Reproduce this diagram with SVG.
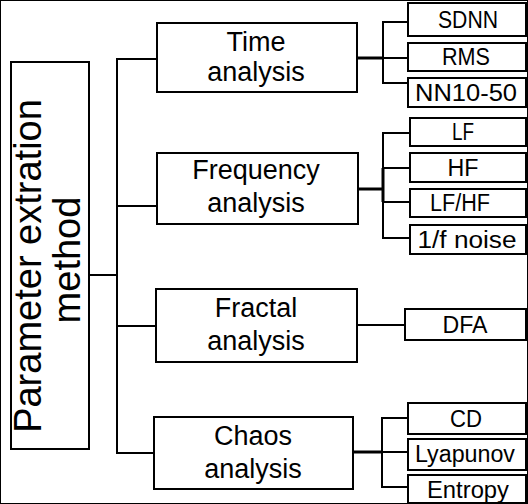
<svg xmlns="http://www.w3.org/2000/svg" width="528" height="504" viewBox="0 0 528 504">
<style>
rect{fill:#fff;stroke:#000;stroke-width:2}
line{stroke:#000;stroke-width:2}
.thick{stroke-width:3}
text{font-family:"Liberation Sans",Arial,sans-serif;fill:#000;text-anchor:middle}
.big{font-size:38px}
.mid{font-size:27px}
.small{font-size:23px}
</style>
<rect width="528" height="504" fill="#fff" stroke="none"/>
<g id="connectors">
<line x1="89" y1="275" x2="117" y2="275"/>
<line x1="117" y1="59" x2="117" y2="453"/>
<line x1="116" y1="59" x2="157" y2="59"/>
<line x1="116" y1="206" x2="157" y2="206"/>
<line x1="116" y1="326" x2="156" y2="326"/>
<line x1="116" y1="453" x2="154" y2="453"/>
<line class="thick" x1="357" y1="58" x2="383" y2="58"/>
<line x1="383" y1="22" x2="383" y2="83"/>
<line x1="382" y1="22" x2="408" y2="22"/>
<line x1="383" y1="58" x2="408" y2="58"/>
<line x1="382" y1="83" x2="408" y2="83"/>
<line class="thick" x1="358" y1="189" x2="383" y2="189"/>
<line x1="383" y1="133" x2="383" y2="238"/>
<line class="thick" x1="383" y1="168" x2="383" y2="202"/>
<line x1="382" y1="133" x2="410" y2="133"/>
<line x1="383" y1="168" x2="410" y2="168"/>
<line x1="383" y1="202" x2="410" y2="202"/>
<line x1="382" y1="238" x2="410" y2="238"/>
<line x1="357" y1="325" x2="405" y2="325"/>
<line class="thick" x1="353" y1="452" x2="382" y2="452"/>
<line x1="382" y1="418" x2="382" y2="487"/>
<line x1="381" y1="418" x2="408" y2="418"/>
<line x1="382" y1="452" x2="408" y2="452"/>
<line x1="381" y1="487" x2="408" y2="487"/>
</g>
<g id="root">
<rect x="11" y="62" width="78" height="387"/>
<text class="big" transform="translate(41,266) rotate(-90)">Parameter extration</text>
<text class="big" transform="translate(80,260) rotate(-90)">method</text>
</g>
<g id="time">
<rect x="157" y="23" width="200" height="69"/>
<text class="mid" x="256" y="51">Time</text>
<text class="mid" x="256" y="81">analysis</text>
</g>
<g id="frequency">
<rect x="157" y="153" width="201" height="71"/>
<text class="mid" x="256" y="179">Frequency</text>
<text class="mid" x="256" y="212">analysis</text>
</g>
<g id="fractal">
<rect x="156" y="289" width="201" height="73"/>
<text class="mid" x="256" y="317">Fractal</text>
<text class="mid" x="256" y="350">analysis</text>
</g>
<g id="chaos">
<rect x="154" y="417" width="199" height="72"/>
<text class="mid" x="253" y="445">Chaos</text>
<text class="mid" x="253" y="478">analysis</text>
</g>
<g id="sdnn"><rect x="408" y="3" width="118" height="33"/><text class="small" x="468" y="28" textLength="60" lengthAdjust="spacingAndGlyphs">SDNN</text></g>
<g id="rms"><rect x="408" y="43" width="118" height="28"/><text class="small" x="466" y="65" textLength="48" lengthAdjust="spacingAndGlyphs">RMS</text></g>
<g id="nn1050"><rect x="408" y="78" width="118" height="29"/><text class="small" x="466" y="101" textLength="102" lengthAdjust="spacingAndGlyphs">NN10-50</text></g>
<g id="lf"><rect x="410" y="118" width="116" height="28"/><text class="small" x="463" y="140" textLength="22" lengthAdjust="spacingAndGlyphs">LF</text></g>
<g id="hf"><rect x="410" y="153" width="116" height="29"/><text class="small" x="463" y="176" textLength="31" lengthAdjust="spacingAndGlyphs">HF</text></g>
<g id="lfhf"><rect x="410" y="189" width="116" height="28"/><text class="small" x="460" y="211" textLength="60" lengthAdjust="spacingAndGlyphs">LF/HF</text></g>
<g id="noise"><rect x="410" y="225" width="116" height="29"/><text class="small" x="467" y="248" textLength="99" lengthAdjust="spacingAndGlyphs">1/f noise</text></g>
<g id="dfa"><rect x="405" y="309" width="121" height="31"/><text class="small" x="465" y="333" textLength="45" lengthAdjust="spacingAndGlyphs">DFA</text></g>
<g id="cd"><rect x="408" y="403" width="118" height="31"/><text class="small" x="466" y="427" textLength="32" lengthAdjust="spacingAndGlyphs">CD</text></g>
<g id="lyapunov"><rect x="408" y="439" width="118" height="31"/><text class="small" x="465" y="462" textLength="100" lengthAdjust="spacingAndGlyphs">Lyapunov</text></g>
<g id="entropy"><rect x="408" y="475" width="118" height="28"/><text class="small" x="468" y="498" textLength="82" lengthAdjust="spacingAndGlyphs">Entropy</text></g>
</svg>
